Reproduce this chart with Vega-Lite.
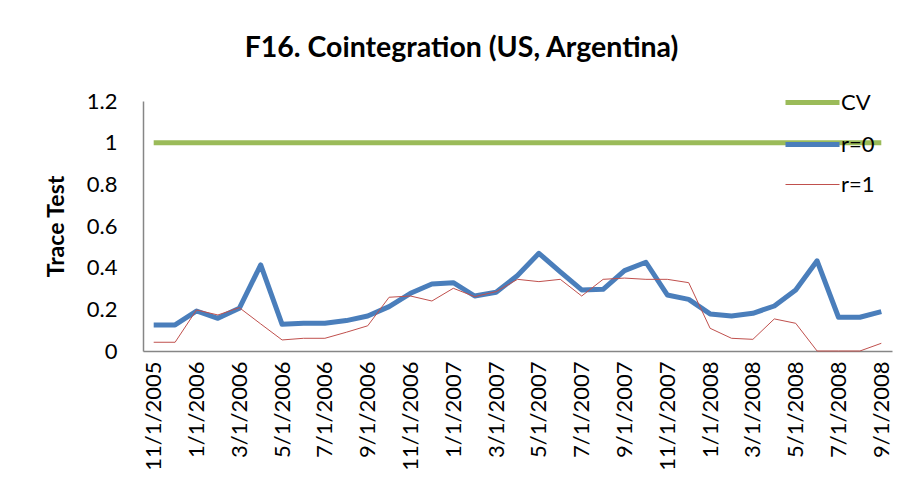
{
  "$schema": "https://vega.github.io/schema/vega-lite/v6.json",
  "autosize": {"type": "none"},
  "width": 749,
  "height": 250,
  "padding": {"left": 143, "top": 101, "right": 20, "bottom": 146},
  "background": "white",
  "title": {
    "text": "F16. Cointegration (US, Argentina)",
    "font": "Lato",
    "fontSize": 28.5,
    "fontWeight": "bold",
    "color": "#000000",
    "anchor": "middle",
    "frame": "group",
    "dx": -56,
    "offset": 18
  },
  "data": {
    "values": [
      {"date": "11/1/2005", "CV": 1, "r=0": 0.125, "r=1": 0.042},
      {"date": "12/1/2005", "CV": 1, "r=0": 0.125, "r=1": 0.042},
      {"date": "1/1/2006", "CV": 1, "r=0": 0.192, "r=1": 0.197},
      {"date": "2/1/2006", "CV": 1, "r=0": 0.157, "r=1": 0.173},
      {"date": "3/1/2006", "CV": 1, "r=0": 0.205, "r=1": 0.208},
      {"date": "4/1/2006", "CV": 1, "r=0": 0.413, "r=1": 0.13},
      {"date": "5/1/2006", "CV": 1, "r=0": 0.128, "r=1": 0.053},
      {"date": "6/1/2006", "CV": 1, "r=0": 0.133, "r=1": 0.061},
      {"date": "7/1/2006", "CV": 1, "r=0": 0.133, "r=1": 0.061},
      {"date": "8/1/2006", "CV": 1, "r=0": 0.146, "r=1": 0.09},
      {"date": "9/1/2006", "CV": 1, "r=0": 0.168, "r=1": 0.121},
      {"date": "10/1/2006", "CV": 1, "r=0": 0.213, "r=1": 0.258},
      {"date": "11/1/2006", "CV": 1, "r=0": 0.277, "r=1": 0.264},
      {"date": "12/1/2006", "CV": 1, "r=0": 0.322, "r=1": 0.24},
      {"date": "1/1/2007", "CV": 1, "r=0": 0.328, "r=1": 0.301},
      {"date": "2/1/2007", "CV": 1, "r=0": 0.264, "r=1": 0.261},
      {"date": "3/1/2007", "CV": 1, "r=0": 0.282, "r=1": 0.285},
      {"date": "4/1/2007", "CV": 1, "r=0": 0.362, "r=1": 0.344},
      {"date": "5/1/2007", "CV": 1, "r=0": 0.469, "r=1": 0.333},
      {"date": "6/1/2007", "CV": 1, "r=0": 0.38, "r=1": 0.344},
      {"date": "7/1/2007", "CV": 1, "r=0": 0.293, "r=1": 0.264},
      {"date": "8/1/2007", "CV": 1, "r=0": 0.296, "r=1": 0.344},
      {"date": "9/1/2007", "CV": 1, "r=0": 0.386, "r=1": 0.35},
      {"date": "10/1/2007", "CV": 1, "r=0": 0.426, "r=1": 0.344},
      {"date": "11/1/2007", "CV": 1, "r=0": 0.269, "r=1": 0.344},
      {"date": "12/1/2007", "CV": 1, "r=0": 0.248, "r=1": 0.328},
      {"date": "1/1/2008", "CV": 1, "r=0": 0.178, "r=1": 0.109},
      {"date": "2/1/2008", "CV": 1, "r=0": 0.168, "r=1": 0.061},
      {"date": "3/1/2008", "CV": 1, "r=0": 0.181, "r=1": 0.056},
      {"date": "4/1/2008", "CV": 1, "r=0": 0.216, "r=1": 0.154},
      {"date": "5/1/2008", "CV": 1, "r=0": 0.293, "r=1": 0.133},
      {"date": "6/1/2008", "CV": 1, "r=0": 0.433, "r=1": 0},
      {"date": "7/1/2008", "CV": 1, "r=0": 0.162, "r=1": 0},
      {"date": "8/1/2008", "CV": 1, "r=0": 0.162, "r=1": 0},
      {"date": "9/1/2008", "CV": 1, "r=0": 0.189, "r=1": 0.037}
    ]
  },
  "transform": [{"fold": ["CV", "r=0", "r=1"], "as": ["series", "value"]}],
  "mark": {"type": "line", "strokeJoin": "round", "strokeCap": "butt"},
  "encoding": {
    "x": {
      "field": "date",
      "type": "ordinal",
      "sort": null,
      "scale": {"type": "point", "padding": 0.5},
      "axis": {
        "title": null,
        "labelAngle": -90,
        "labelFont": "Lato",
        "labelFontSize": 22,
        "labelColor": "#000000",
        "labelPadding": 10,
        "ticks": false,
        "domainColor": "#868686",
        "domainWidth": 1.5,
        "grid": false,
        "values": ["11/1/2005", "1/1/2006", "3/1/2006", "5/1/2006", "7/1/2006", "9/1/2006", "11/1/2006", "1/1/2007", "3/1/2007", "5/1/2007", "7/1/2007", "9/1/2007", "11/1/2007", "1/1/2008", "3/1/2008", "5/1/2008", "7/1/2008", "9/1/2008"]
      }
    },
    "y": {
      "field": "value",
      "type": "quantitative",
      "scale": {"domain": [0, 1.2], "nice": false, "zero": true},
      "axis": {
        "title": "Trace Test",
        "titleFont": "Lato",
        "titleFontSize": 23,
        "titleFontWeight": "bold",
        "titleColor": "#000000",
        "titlePadding": 18,
        "labelFont": "Lato",
        "labelFontSize": 22,
        "labelColor": "#000000",
        "labelPadding": 26,
        "values": [0, 0.2, 0.4, 0.6, 0.8, 1, 1.2],
        "format": ".1~f",
        "ticks": false,
        "grid": false,
        "domainColor": "#868686",
        "domainWidth": 1.5
      }
    },
    "color": {
      "field": "series",
      "type": "nominal",
      "scale": {"domain": ["CV", "r=0", "r=1"], "range": ["#9BBB59", "#4A7EBB", "#C0504D"]},
      "legend": {
        "title": null,
        "orient": "none",
        "legendX": 647,
        "legendY": -21,
        "padding": 0,
        "symbolType": "M-1.35,0H1.35",
        "symbolSize": 1600,
        "labelFont": "Lato",
        "labelFontSize": 22,
        "labelColor": "#000000",
        "labelOffset": 6,
        "rowPadding": 8
      }
    },
    "strokeWidth": {
      "field": "series",
      "type": "nominal",
      "scale": {"type": "ordinal", "domain": ["CV", "r=0", "r=1"], "range": [5, 5, 1]},
      "legend": null
    }
  },
  "config": {"view": {"stroke": null}}
}
